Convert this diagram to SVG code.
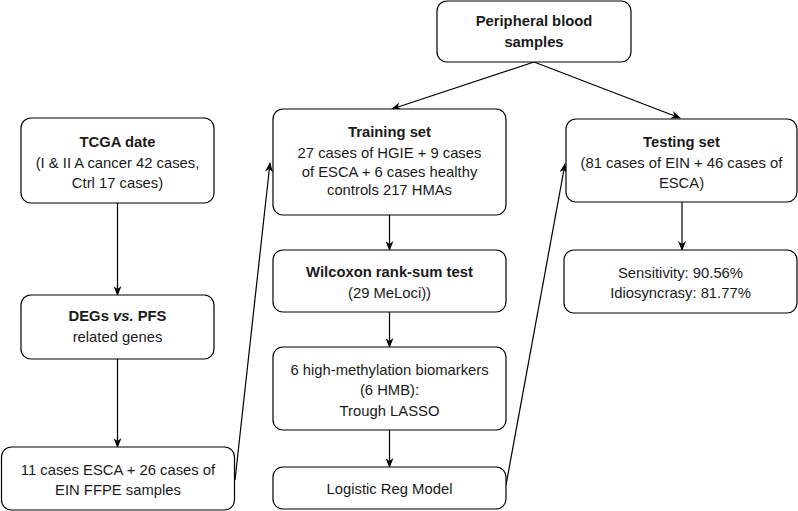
<svg xmlns="http://www.w3.org/2000/svg" width="798" height="511" viewBox="0 0 798 511">
<defs>
<style>
.box{fill:#fff;stroke:#000;stroke-width:1.2}
text{font-family:"Liberation Sans",Arial,Helvetica,sans-serif;font-size:14.8px;fill:#1a1a1a;text-anchor:middle}
.b{font-weight:bold}
.edge{fill:none;stroke:#000;stroke-width:1.2;marker-end:url(#arr)}
</style>
<marker id="arr" viewBox="0 0 10 8" refX="9" refY="4" markerWidth="10" markerHeight="8" markerUnits="userSpaceOnUse" orient="auto">
<path d="M0,0 L10,4 L0,8 L3,4 Z" fill="#000"/>
</marker>
</defs>
<g id="connectors">
<line class="edge" x1="534" y1="62" x2="392" y2="109"/>
<line class="edge" x1="534" y1="62" x2="680" y2="118"/>
<line class="edge" x1="117.5" y1="203" x2="117.5" y2="295"/>
<line class="edge" x1="117.5" y1="359" x2="117.5" y2="447"/>
<line class="edge" x1="235" y1="480" x2="270" y2="163"/>
<line class="edge" x1="389.5" y1="215" x2="389.5" y2="250"/>
<line class="edge" x1="389.5" y1="312" x2="389.5" y2="347"/>
<line class="edge" x1="389.5" y1="430" x2="389.5" y2="467"/>
<line class="edge" x1="506" y1="485" x2="565" y2="164"/>
<line class="edge" x1="682" y1="202" x2="682" y2="250"/>
</g>
<g id="peripheral">
<rect class="box" x="437" y="1" width="194" height="61" rx="10"/>
<text class="b" x="534" y="26">Peripheral blood</text>
<text class="b" x="534" y="47">samples</text>
</g>
<g id="tcga">
<rect class="box" x="21" y="118" width="193" height="85" rx="10"/>
<text class="b" x="117.5" y="147">TCGA date</text>
<text x="117.5" y="168">(I &amp; II A cancer 42 cases,</text>
<text x="117.5" y="188">Ctrl 17 cases)</text>
</g>
<g id="training">
<rect class="box" x="273" y="109" width="233" height="106" rx="10"/>
<text class="b" x="389.5" y="137">Training set</text>
<text x="389.5" y="158">27 cases of HGIE + 9 cases</text>
<text x="389.5" y="177">of ESCA + 6 cases healthy</text>
<text x="389.5" y="195">controls 217 HMAs</text>
</g>
<g id="testing">
<rect class="box" x="566" y="119" width="231" height="83" rx="10"/>
<text class="b" x="681.5" y="147">Testing set</text>
<text x="681.5" y="168">(81 cases of EIN + 46 cases of</text>
<text x="681.5" y="188">ESCA)</text>
</g>
<g id="sensitivity">
<rect class="box" x="564" y="250" width="233" height="63" rx="10"/>
<text x="680.5" y="278">Sensitivity: 90.56%</text>
<text x="680.5" y="298">Idiosyncrasy: 81.77%</text>
</g>
<g id="degs">
<rect class="box" x="21" y="295" width="193" height="64" rx="10"/>
<text class="b" x="117.5" y="321">DEGs <tspan font-style="italic">vs.</tspan> PFS</text>
<text x="117.5" y="342">related genes</text>
</g>
<g id="ffpe">
<rect class="box" x="1.5" y="447" width="233" height="63" rx="10"/>
<text x="118" y="475">11 cases ESCA + 26 cases of</text>
<text x="118" y="495">EIN FFPE samples</text>
</g>
<g id="wilcoxon">
<rect class="box" x="273" y="250" width="233" height="62" rx="10"/>
<text class="b" x="389.5" y="277">Wilcoxon rank-sum test</text>
<text x="389.5" y="298">(29 MeLoci))</text>
</g>
<g id="hmb">
<rect class="box" x="273" y="347" width="233" height="83" rx="10"/>
<text x="389.5" y="375">6 high-methylation biomarkers</text>
<text x="389.5" y="395">(6 HMB):</text>
<text x="389.5" y="416">Trough LASSO</text>
</g>
<g id="logistic">
<rect class="box" x="273" y="467" width="233" height="42" rx="10"/>
<text x="389.5" y="494">Logistic Reg Model</text>
</g>
</svg>
